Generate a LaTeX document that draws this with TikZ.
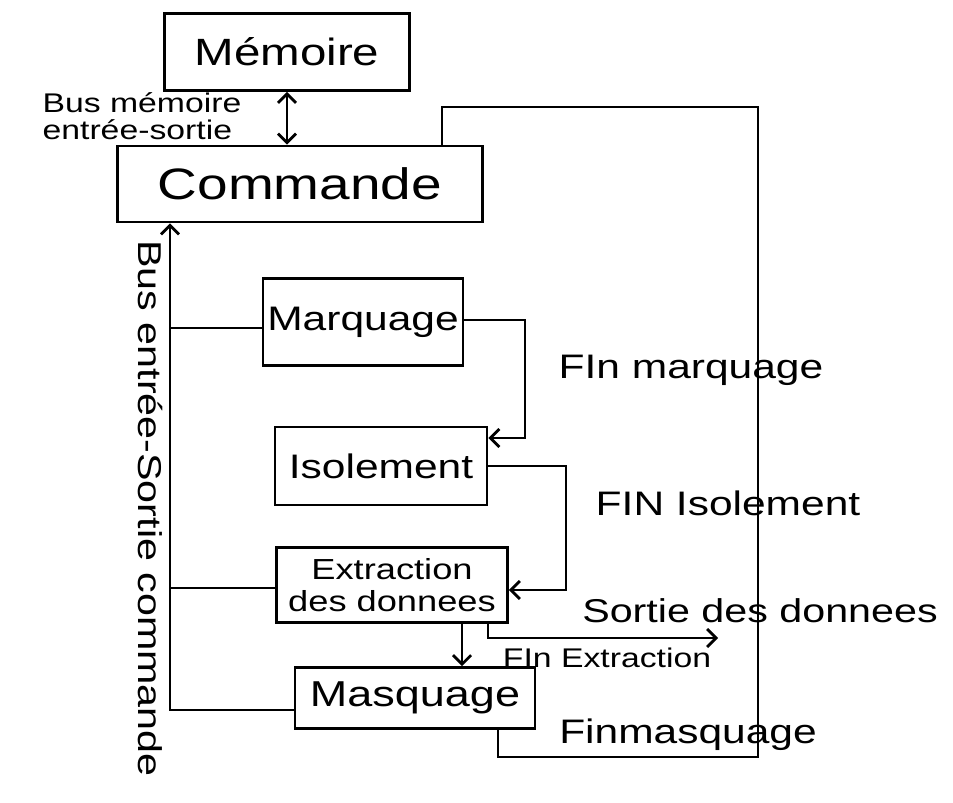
\documentclass[tikz,border=0pt]{standalone}
\usepackage{fontspec}
\setmainfont{Liberation Sans}
\newfontfamily\handfont[FakeStretch=1.25]{Liberation Sans}
\usetikzlibrary{arrows.meta}
\tikzset{
  x=1pt, y=-1pt,
  >={Straight Barb[length=9pt,width=18pt]},
  wire/.style={line width=2.8pt, line join=miter},
  blk/.style={draw, line width=2.6pt, inner sep=0pt, align=center, font=\handfont},
  lbl/.style={inner sep=0pt, align=left, font=\handfont},
}
\begin{document}
\begin{tikzpicture}
\useasboundingbox[fill=white] (0,0) rectangle (953,803);

% blocks
\node[blk, minimum width=245pt, minimum height=77pt, font=\handfont\fontsize{38}{40}\selectfont] (mem) at (287,52) {Mémoire};
\node[blk, minimum width=365pt, minimum height=76pt, font=\handfont\fontsize{44}{46}\selectfont] (cmd) at (300,184) {Commande};
\node[blk, minimum width=200pt, minimum height=87pt, font=\handfont\fontsize{34}{36}\selectfont] (mar) at (363,322) {Marquage};
\node[blk, minimum width=212pt, minimum height=78pt, font=\handfont\fontsize{34}{36}\selectfont] (iso) at (381,466) {Isolement};
\node[blk, minimum width=231pt, minimum height=75pt, font=\handfont\fontsize{29}{32}\selectfont] (ext) at (392,585) {Extraction\\des donnees};
\node[blk, minimum width=240pt, minimum height=61pt, font=\handfont\fontsize{36}{38}\selectfont] (mas) at (415,698) {Masquage};

% attachment and bend points
\coordinate (busx) at (170,0);
\coordinate (masw) at ([yshift=-12pt]mas.west);
\coordinate (marw) at ([yshift=-6pt]mar.west);
\coordinate (extw) at ([yshift=-3pt]ext.west);
\coordinate (mare) at ([yshift=2pt]mar.east);
\coordinate (b1) at (525,438);
\coordinate (b2) at (566,590);
\coordinate (dx) at (462,0);
\coordinate (sx) at (488,0);
\coordinate (so) at (718,638);
\coordinate (fb1) at (498,757);
\coordinate (fb2) at (758,107);
\coordinate (fb3) at (442,107);

% memory bus
\draw[wire, <->] (mem.south) -- (cmd.north -| mem.south);

% command bus on the left
\draw[wire, ->] (masw) -- (busx |- masw) -- (busx |- cmd.south);
\draw[wire] (busx |- marw) -- (marw);
\draw[wire] (busx |- extw) -- (extw);

% end-of-stage signals
\draw[wire, ->] (mare) -| (b1) -- (b1 -| iso.east);
\draw[wire, ->] (iso.east) -| (b2) -- (b2 -| ext.east);
\draw[wire, ->] (ext.south -| dx) -- (mas.north -| dx);
\draw[wire, ->] (ext.south -| sx) |- (so);
\draw[wire] (mas.south -| fb1) -- (fb1) -| (fb2) -- (fb3) -- (cmd.north -| fb3);

% labels
\node[lbl, font=\handfont\fontsize{27}{27}\selectfont] (lbus) at (142,116) {Bus mémoire\\entrée-sortie};
\node[lbl, font=\handfont\fontsize{34}{36}\selectfont] (lfm) at (691,370) {FIn marquage};
\node[lbl, font=\handfont\fontsize{34}{36}\selectfont] (lfi) at (728,503) {FIN Isolement};
\node[lbl, font=\handfont\fontsize{33}{36}\selectfont] (lso) at (760,611) {Sortie des donnees};
\node[lbl, font=\handfont\fontsize{27}{30}\selectfont] (lfe) at (607,658) {FIn Extraction};
\node[lbl, font=\handfont\fontsize{34}{36}\selectfont] (lfma) at (688,735) {Finmasquage};
\node[lbl, rotate=-90, anchor=west, font=\handfont\fontsize{33}{35}\selectfont] (lcb) at (150,240) {Bus entrée-Sortie commande};
\end{tikzpicture}
\end{document}
